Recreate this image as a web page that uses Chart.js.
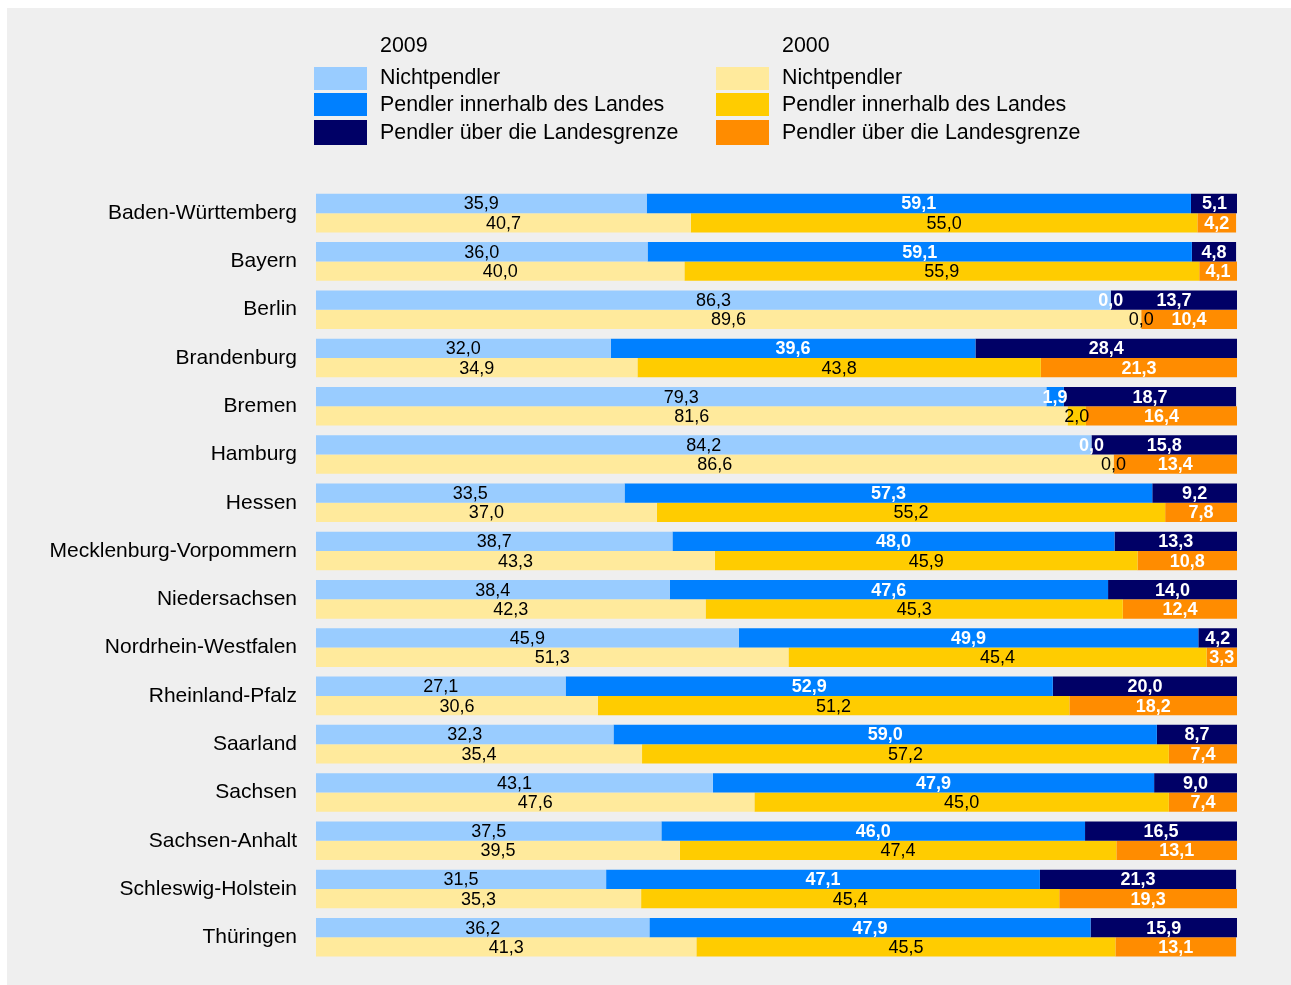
<!DOCTYPE html>
<html lang="de">
<head>
<meta charset="utf-8">
<title>Pendler nach Ländern 2009 und 2000</title>
<script src="https://cdn.jsdelivr.net/npm/chart.js@4"></script>
<style>
html, body { margin: 0; padding: 0; background: #fff; }
#panel { position: absolute; left: 7px; top: 8px; width: 1284px; height: 977px; background: #efefef; }
#chart { position: absolute; left: 0; top: 0; }
</style>
</head>
<body>
<div id="panel"></div>
<canvas id="chart" width="1291" height="985"></canvas>
<script>
const laender = ['Baden-Württemberg', 'Bayern', 'Berlin', 'Brandenburg', 'Bremen', 'Hamburg', 'Hessen',
  'Mecklenburg-Vorpommern', 'Niedersachsen', 'Nordrhein-Westfalen', 'Rheinland-Pfalz', 'Saarland',
  'Sachsen', 'Sachsen-Anhalt', 'Schleswig-Holstein', 'Thüringen'];

// Anteile in Prozent, 2009
const nicht2009 = [35.9, 36.0, 86.3, 32.0, 79.3, 84.2, 33.5, 38.7, 38.4, 45.9, 27.1, 32.3, 43.1, 37.5, 31.5, 36.2];
const innen2009 = [59.1, 59.1, 0.0, 39.6, 1.9, 0.0, 57.3, 48.0, 47.6, 49.9, 52.9, 59.0, 47.9, 46.0, 47.1, 47.9];
const aussen2009 = [5.1, 4.8, 13.7, 28.4, 18.7, 15.8, 9.2, 13.3, 14.0, 4.2, 20.0, 8.7, 9.0, 16.5, 21.3, 15.9];

// Anteile in Prozent, 2000
const nicht2000 = [40.7, 40.0, 89.6, 34.9, 81.6, 86.6, 37.0, 43.3, 42.3, 51.3, 30.6, 35.4, 47.6, 39.5, 35.3, 41.3];
const innen2000 = [55.0, 55.9, 0.0, 43.8, 2.0, 0.0, 55.2, 45.9, 45.3, 45.4, 51.2, 57.2, 45.0, 47.4, 45.4, 45.5];
const aussen2000 = [4.2, 4.1, 10.4, 21.3, 16.4, 13.4, 7.8, 10.8, 12.4, 3.3, 18.2, 7.4, 7.4, 13.1, 19.3, 13.1];

const kategorien = ['Nichtpendler', 'Pendler innerhalb des Landes', 'Pendler über die Landesgrenze'];
const jahre = ['2009', '2000'];

const FONT = 'Liberation Sans, Arial, Helvetica, sans-serif';

function ds(label, stack, data, color, textColor, bold) {
  return { label, stack, data, backgroundColor: color, borderWidth: 0, textColor, bold };
}

const datasets = [
  ds(kategorien[0], jahre[0], nicht2009, '#99ccff', '#000', false),
  ds(kategorien[1], jahre[0], innen2009, '#0080ff', '#fff', true),
  ds(kategorien[2], jahre[0], aussen2009, '#000066', '#fff', true),
  ds(kategorien[0], jahre[1], nicht2000, '#ffea9c', '#000', false),
  ds(kategorien[1], jahre[1], innen2000, '#ffcc00', '#000', false),
  ds(kategorien[2], jahre[1], aussen2000, '#ff8c00', '#fff', true)
];

const fmt = v => v.toFixed(1).replace('.', ',');

// Wert mittig in jedes Segment schreiben
const segmentLabels = {
  id: 'segmentLabels',
  afterDatasetsDraw(chart) {
    const c = chart.ctx;
    c.save();
    c.textAlign = 'center';
    c.textBaseline = 'middle';
    chart.data.datasets.forEach((d, i) => {
      const meta = chart.getDatasetMeta(i);
      c.fillStyle = d.textColor;
      c.font = (d.bold ? 'bold ' : '') + '18px ' + FONT;
      meta.data.forEach((bar, j) => {
        const x = (bar.x + bar.base) / 2;
        c.fillText(fmt(d.data[j]), x, bar.y + 1);
      });
    });
    c.restore();
  }
};

// Legende in zwei Spalten, eine pro Jahr
const jahresLegende = {
  id: 'jahresLegende',
  afterDraw(chart) {
    const c = chart.ctx;
    const colX = [314, 716];
    const boxY = [67, 93, 120];
    const textY = [78, 105, 133];
    c.save();
    c.font = '21.4px ' + FONT;
    c.textBaseline = 'middle';
    c.textAlign = 'left';
    jahre.forEach((jahr, k) => {
      c.fillStyle = '#000';
      c.fillText(jahr, colX[k] + 66, 46);
      chart.data.datasets.filter(d => d.stack === jahr).forEach((d, r) => {
        c.fillStyle = d.backgroundColor;
        c.fillRect(colX[k], boxY[r], 53, r === 2 ? 25 : 23);
        c.fillStyle = '#000';
        c.fillText(d.label, colX[k] + 66, textY[r]);
      });
    });
    c.restore();
  }
};

new Chart(document.getElementById('chart'), {
  type: 'bar',
  data: { labels: laender, datasets },
  plugins: [segmentLabels, jahresLegende],
  options: {
    indexAxis: 'y',
    responsive: false,
    devicePixelRatio: 1,
    animation: false,
    categoryPercentage: 0.8,
    barPercentage: 1.0,
    layout: { padding: { left: 0, top: 189, right: 54, bottom: 23.6 } },
    plugins: { legend: { display: false }, tooltip: { enabled: false } },
    scales: {
      x: { stacked: true, min: 0, max: 100, display: false },
      y: {
        stacked: true,
        grid: { display: false, drawTicks: false },
        border: { display: false },
        // kleine lineHeight, damit die Achse unten keinen Extra-Rand verlangt
        ticks: { color: '#000', padding: 19, font: { family: FONT, size: 21, lineHeight: 0.4 } },
        afterFit(scale) { scale.width = 316; }
      }
    }
  }
});
</script>
</body>
</html>
